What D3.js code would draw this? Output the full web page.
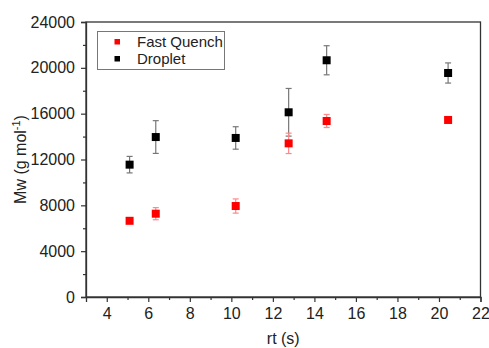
<!DOCTYPE html>
<html>
<head>
<meta charset="utf-8">
<script src="https://cdn.jsdelivr.net/npm/d3@7"></script>
<style>
  body { margin: 0; background: #fff; }
  text { font-family: Arial, "Liberation Sans", sans-serif; fill: #222; }
</style>
</head>
<body>
<div id="chart"></div>
<script>
// retention time (s)
const rt = [5.1, 6.36, 10.21, 12.76, 14.59, 20.44];

// Fast Quench: Mw and error bounds
const quenchMw = [6650, 7270, 7940, 13410, 15360, 15450];
const quenchErr = [150, 530, 620, 890, 570, 0];

// Droplet: Mw and error bounds
const dropletMw = [11550, 13960, 13880, 16120, 20660, 19550];
const dropletErr = [720, 1430, 980, 2080, 1270, 880];

const xTicks = [4, 6, 8, 10, 12, 14, 16, 18, 20, 22];
const yTicks = [0, 4000, 8000, 12000, 16000, 20000, 24000];

const width = 489, height = 348;
const margin = {top: 22, right: 8.5, bottom: 51, left: 86};

const svg = d3.select('#chart').append('svg')
  .attr('width', width).attr('height', height);

const x = d3.scaleLinear().domain([3, 22]).range([margin.left, width - margin.right]);
const y = d3.scaleLinear().domain([0, 24000]).range([height - margin.bottom, margin.top]);

const axisColor = '#333';

// frame
svg.append('rect')
  .attr('x', x(3)).attr('y', y(24000))
  .attr('width', x(22) - x(3)).attr('height', y(0) - y(24000))
  .attr('fill', 'none').attr('stroke', axisColor).attr('stroke-width', 1.3);

// x axis
svg.append('g').attr('transform', `translate(0,${y(0)})`)
  .call(d3.axisBottom(x).tickValues(xTicks).tickSize(5).tickPadding(6).tickFormat(d3.format('d')));
svg.append('g').attr('transform', `translate(0,${y(0)})`)
  .call(d3.axisBottom(x).tickValues(d3.range(5, 22, 2)).tickSize(3).tickFormat(''))
  .call(g => g.select('.domain').remove());

// y axis
svg.append('g').attr('transform', `translate(${x(3)},0)`)
  .call(d3.axisLeft(y).tickValues(yTicks).tickSize(5).tickPadding(6).tickFormat(d3.format('d')));
svg.append('g').attr('transform', `translate(${x(3)},0)`)
  .call(d3.axisLeft(y).tickValues(d3.range(2000, 24000, 4000)).tickSize(3).tickFormat(''))
  .call(g => g.select('.domain').remove());

svg.selectAll('.domain').attr('stroke', axisColor).attr('stroke-width', 1.3);
svg.selectAll('.tick line').attr('stroke', axisColor).attr('stroke-width', 1.2);
svg.selectAll('.tick text').style('font-size', '16px').attr('fill', '#222');

// axis labels
svg.append('text')
  .attr('x', (x(3) + x(22)) / 2).attr('y', 344)
  .attr('text-anchor', 'middle').style('font-size', '16px')
  .text('rt (s)');

const yl = svg.append('text')
  .attr('transform', `translate(26,${(y(0) + y(24000)) / 2}) rotate(-90)`)
  .attr('text-anchor', 'middle').style('font-size', '16px');
yl.append('tspan').text('Mw (g mol');
yl.append('tspan').attr('dy', -6).style('font-size', '11px').text('-1');
yl.append('tspan').attr('dy', 6).text(')');

// series
function drawSeries(vals, errs, fill, barColor) {
  const g = svg.append('g');
  const data = rt.map((t, i) => ({t, v: vals[i], e: errs[i]}));
  const eb = g.selectAll('.eb').data(data.filter(d => d.e > 0)).join('g');
  eb.append('line')
    .attr('x1', d => x(d.t)).attr('x2', d => x(d.t))
    .attr('y1', d => y(d.v - d.e)).attr('y2', d => y(d.v + d.e))
    .attr('stroke', barColor).attr('stroke-width', 1.2);
  eb.selectAll('.cap').data(d => [d.v - d.e, d.v + d.e].map(v => ({t: d.t, v})))
    .join('line')
    .attr('x1', d => x(d.t) - 3).attr('x2', d => x(d.t) + 3)
    .attr('y1', d => y(d.v)).attr('y2', d => y(d.v))
    .attr('stroke', barColor).attr('stroke-width', 1.2);
  g.selectAll('rect').data(data).join('rect')
    .attr('x', d => x(d.t) - 4).attr('y', d => y(d.v) - 4)
    .attr('width', 8).attr('height', 8)
    .attr('fill', fill);
}

drawSeries(dropletMw, dropletErr, '#000', '#777');
drawSeries(quenchMw, quenchErr, '#f00', '#f88');

// legend
const leg = svg.append('g');
leg.append('rect')
  .attr('x', 97.5).attr('y', 31.5).attr('width', 127).attr('height', 38)
  .attr('fill', '#fff').attr('stroke', '#777').attr('stroke-width', 1);
const items = [{name: 'Fast Quench', color: '#f00'}, {name: 'Droplet', color: '#000'}];
items.forEach((it, i) => {
  const cy = 41.5 + i * 17;
  leg.append('rect').attr('x', 114.5).attr('y', cy - 2.5).attr('width', 5.5).attr('height', 5.5)
    .attr('fill', it.color);
  leg.append('text').attr('x', 137).attr('y', cy + 5.5)
    .style('font-size', '15px').text(it.name);
});
</script>
</body>
</html>
